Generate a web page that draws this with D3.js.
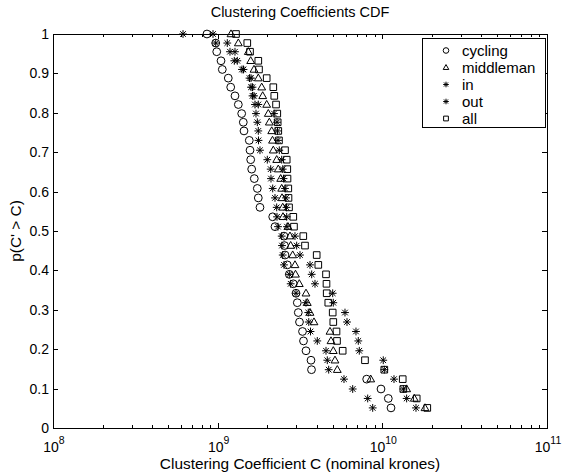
<!DOCTYPE html>
<html>
<head>
<meta charset="utf-8">
<script src="https://cdn.jsdelivr.net/npm/d3@7"></script>
<style>
  body { margin: 0; background: #fff; }
  svg { display: block; }
  text { font-family: "Liberation Sans", Arial, Helvetica, sans-serif; fill: #000; }
</style>
</head>
<body>
<svg id="chart" width="565" height="474"></svg>
<script>
// Complementary CDF levels p(C' > C), one per ranked observation
const probability = [1.000, 0.977, 0.955, 0.932, 0.910, 0.888, 0.865, 0.843, 0.821, 0.798,
  0.776, 0.754, 0.730, 0.705, 0.681, 0.657, 0.633, 0.608, 0.584, 0.560,
  0.536, 0.511, 0.487, 0.463, 0.439, 0.414, 0.390, 0.366, 0.342, 0.318,
  0.293, 0.269, 0.245, 0.221, 0.196, 0.172, 0.148, 0.124, 0.099, 0.075, 0.051];

// Clustering coefficient values, in billions of nominal krones
const cycling = [0.861, 0.973, 0.987, 1.048, 1.067, 1.160, 1.200, 1.274, 1.335, 1.399,
  1.431, 1.445, 1.556, 1.572, 1.587, 1.609, 1.669, 1.741, 1.765, 1.807,
  2.159, 2.229, 2.528, 2.546, 2.564, 2.647, 2.723, 2.879, 2.990, 3.045,
  3.087, 3.140, 3.275, 3.321, 3.439, 3.688, 3.714, 8.035, 9.815, 10.87, 11.29];

const middleman = [1.205, 1.335, 1.535, 1.587, 1.662, 1.765, 1.851, 1.877, 1.985, 2.030,
  2.059, 2.129, 2.153, 2.177, 2.283, 2.334, 2.414, 2.448, 2.459, 2.483,
  2.493, 2.673, 2.749, 2.776, 2.855, 2.948, 2.969, 3.131, 3.439, 3.502,
  3.637, 3.846, 4.810, 4.878, 5.037, 5.158, 5.327, 8.50, 14.05, 15.64, 18.16];

const inFlow = [0.616, 0.973, 1.188, 1.262, 1.405, 1.561, 1.594, 1.628, 1.685, 1.709,
  1.741, 1.765, 1.770, 1.807, 2.002, 2.099, 2.108, 2.159, 2.229, 2.283,
  2.293, 2.325, 2.448, 2.459, 2.483, 2.528, 2.723, 2.776, 2.990, 3.439,
  3.550, 3.575, 3.662, 4.027, 4.549, 4.632, 4.724, 5.850, 6.607, 8.150, 8.740];

const outFlow = [0.937, 1.144, 1.274, 1.316, 1.435, 1.594, 1.628, 1.662, 1.765, 2.198,
  2.293, 2.309, 2.325, 2.367, 2.448, 2.483, 2.511, 2.564, 2.600, 2.618,
  2.626, 2.636, 2.948, 3.019, 3.162, 3.637, 3.724, 3.900, 4.995, 5.037,
  5.932, 6.101, 6.918, 7.145, 7.246, 10.13, 10.28, 11.77, 13.41, 14.05, 16.01];

const all = [1.292, 1.513, 1.572, 1.765, 1.782, 1.985, 2.177, 2.207, 2.262, 2.302,
  2.315, 2.334, 2.357, 2.564, 2.626, 2.647, 2.655, 2.685, 2.692, 2.712,
  2.879, 2.907, 3.311, 3.391, 3.994, 4.085, 4.549, 4.580, 4.593, 4.697,
  4.995, 5.037, 5.268, 5.305, 5.744, 7.846, 10.28, 13.30, 13.41, 16.17, 18.75];

const seriesNames = ["cycling", "middleman", "in", "out", "all"];
const seriesMarkers = ["circle", "triangle", "asterisk", "asterisk", "square"];
const seriesValues = [cycling, middleman, inFlow, outFlow, all];

const xDecades = [1e8, 1e9, 1e10, 1e11];
const xExponents = ["8", "9", "10", "11"];
const yTicks = [0, 0.1, 0.2, 0.3, 0.4, 0.5, 0.6, 0.7, 0.8, 0.9, 1];
const yTickLabels = ["0", "0.1", "0.2", "0.3", "0.4", "0.5", "0.6", "0.7", "0.8", "0.9", "1"];

const BILLION = 1e9;
const margin = { left: 53, right: 547, top: 34, bottom: 428 };
const FONT = 14;
const LABEL_FONT = 15.4;

const svg = d3.select("#chart");

const x = d3.scaleLog().domain([1e8, 1e11]).range([margin.left, margin.right]);
const y = d3.scaleLinear().domain([0, 1]).range([margin.bottom, margin.top]);

// minor log ticks: 2..9 within each decade
const minorTicks = [];
for (let d = 0; d < xDecades.length - 1; d++) {
  for (let m = 2; m <= 9; m++) minorTicks.push(xDecades[d] * m);
}

const axes = svg.append("g").attr("shape-rendering", "crispEdges");

function styleAxis(g) {
  g.selectAll("path.domain").remove();
  g.selectAll("line").attr("stroke", "#000").attr("stroke-width", 1);
  g.selectAll("text").remove();
}

// bottom / top major and minor ticks, pointing inward
axes.append("g").attr("transform", `translate(0,${margin.bottom})`)
  .call(d3.axisBottom(x).tickValues(xDecades).tickSize(-5).tickSizeOuter(0)).call(styleAxis);
axes.append("g").attr("transform", `translate(0,${margin.bottom})`)
  .call(d3.axisBottom(x).tickValues(minorTicks).tickSize(-3).tickSizeOuter(0)).call(styleAxis);
axes.append("g").attr("transform", `translate(0,${margin.top})`)
  .call(d3.axisTop(x).tickValues(xDecades).tickSize(-5).tickSizeOuter(0)).call(styleAxis);
axes.append("g").attr("transform", `translate(0,${margin.top})`)
  .call(d3.axisTop(x).tickValues(minorTicks).tickSize(-3).tickSizeOuter(0)).call(styleAxis);

// left / right ticks
axes.append("g").attr("transform", `translate(${margin.left},0)`)
  .call(d3.axisLeft(y).tickValues(yTicks).tickSize(-5).tickSizeOuter(0)).call(styleAxis);
axes.append("g").attr("transform", `translate(${margin.right},0)`)
  .call(d3.axisRight(y).tickValues(yTicks).tickSize(-5).tickSizeOuter(0)).call(styleAxis);

// frame
axes.append("rect")
  .attr("x", margin.left).attr("y", margin.top)
  .attr("width", margin.right - margin.left).attr("height", margin.bottom - margin.top)
  .attr("fill", "none").attr("stroke", "#000").attr("stroke-width", 1);

// y tick labels
svg.append("g").selectAll("text").data(yTicks).join("text")
  .attr("x", margin.left - 4)
  .attr("y", d => y(d) + 5)
  .attr("text-anchor", "end")
  .attr("font-size", FONT)
  .text((d, i) => yTickLabels[i]);

// x tick labels as powers of ten
const xLabels = svg.append("g").selectAll("text").data(xDecades).join("text")
  .attr("x", d => x(d) + 1)
  .attr("y", 452)
  .attr("text-anchor", "middle")
  .attr("font-size", FONT);
xLabels.append("tspan").text("10");
xLabels.append("tspan").attr("dy", -8).attr("font-size", 10.5).text((d, i) => xExponents[i]);

// titles
svg.append("text").attr("x", (margin.left + margin.right) / 2).attr("y", 17)
  .attr("text-anchor", "middle").attr("font-size", 14.5).text("Clustering Coefficients CDF");
svg.append("text").attr("x", (margin.left + margin.right) / 2).attr("y", 469)
  .attr("text-anchor", "middle").attr("font-size", LABEL_FONT).text("Clustering Coefficient C (nominal krones)");
svg.append("text")
  .attr("transform", `translate(21,${(margin.top + margin.bottom) / 2}) rotate(-90)`)
  .attr("text-anchor", "middle").attr("font-size", LABEL_FONT).text("p(C' > C)");

// marker shapes
function markerPath(kind, s) {
  if (kind === "triangle") {
    return `M0,${-s * 1.05} L${s},${s * 0.7} L${-s},${s * 0.7} Z`;
  }
  if (kind === "square") {
    const h = s * 0.85;
    return `M${-h},${-h} H${h} V${h} H${-h} Z`;
  }
  if (kind === "asterisk") {
    const d = s * 0.72;
    return `M0,${-s} V${s} M${-s},0 H${s} M${-d},${-d} L${d},${d} M${-d},${d} L${d},${-d}`;
  }
  return "";
}

function drawMarker(g, kind, cx, cy, s) {
  if (kind === "circle") {
    g.append("circle").attr("cx", cx).attr("cy", cy).attr("r", s)
      .attr("fill", "none").attr("stroke", "#000").attr("stroke-width", 1);
  } else {
    g.append("path").attr("transform", `translate(${cx},${cy})`)
      .attr("d", markerPath(kind, s))
      .attr("fill", "none").attr("stroke", "#000").attr("stroke-width", 1);
  }
}

const plot = svg.append("g");
seriesValues.forEach((vals, si) => {
  const g = plot.append("g").attr("class", "series-" + seriesNames[si]);
  vals.forEach((v, i) => {
    drawMarker(g, seriesMarkers[si], x(v * BILLION), y(probability[i]), 3.9);
  });
});

// legend
const legend = svg.append("g");
legend.append("rect")
  .attr("x", 422).attr("y", 38).attr("width", 123).attr("height", 89)
  .attr("fill", "#fff").attr("stroke", "#000").attr("stroke-width", 1)
  .attr("shape-rendering", "crispEdges");
seriesNames.forEach((name, i) => {
  const cy = 50.5 + i * 17;
  drawMarker(legend, seriesMarkers[i], 446, cy, 2.8);
  legend.append("text").attr("x", 462).attr("y", cy + 5)
    .attr("font-size", 15).text(name);
});
</script>
</body>
</html>
